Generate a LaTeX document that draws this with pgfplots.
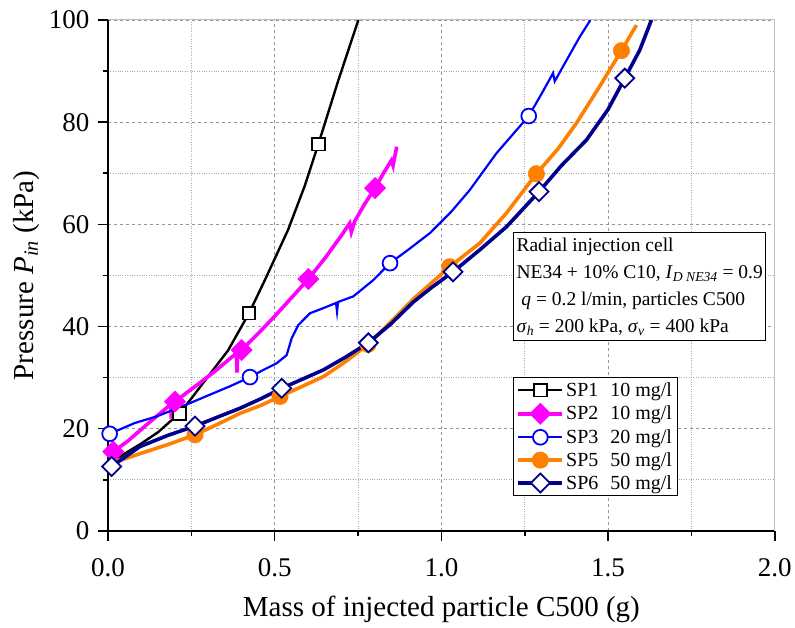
\documentclass[border=0pt]{standalone}
\usepackage{fontspec}
\setmainfont{Liberation Serif}
\usepackage{pgfplots}
\pgfplotsset{compat=1.18}
\definecolor{spmagenta}{RGB}{255,0,255}
\definecolor{sporange}{RGB}{255,128,0}
\definecolor{spnavy}{RGB}{0,0,140}
\definecolor{gridgray}{RGB}{150,150,150}
\begin{document}
\begin{tikzpicture}
\begin{axis}[
    name=ax,
    scale only axis, width=667pt, height=511pt,
    xmin=0, xmax=2, ymin=0, ymax=100,
    axis lines*=left,
    axis line style={line width=1.6pt},
    xtick={0,0.5,1,1.5,2}, ytick={0,20,40,60,80,100},
    minor x tick num=1, minor y tick num=1,
    tick align=outside,
    major tick length=10pt, minor tick length=5pt,
    tick style={black, line width=1.6pt},
    grid=both,
    major grid style={dashed, gridgray, line width=0.8pt},
    minor grid style={dotted, gridgray!80, line width=0.8pt},
    /pgf/number format/assume math mode=true,
    x tick label style={/pgf/number format/fixed, /pgf/number format/fixed zerofill,
        /pgf/number format/precision=1, yshift=-14pt},
    y tick label style={xshift=-5pt},
    tick label style={font=\fontsize{27}{30}\selectfont},
    label style={font=\fontsize{29}{34}\selectfont},
    xlabel={Mass of injected particle C500 (g)},
    xlabel style={at={(axis description cs:0.5,0)}, anchor=base, yshift=-86pt},
    ylabel={Pressure \textit{P}\textsubscript{\textit{in}} (kPa)},
    ylabel style={at={(axis description cs:-0.1124,0.5)}, anchor=base},
    legend style={at={(axis cs:1.215,30.1)}, anchor=north west, draw=black, line width=1pt,
        font=\fontsize{20}{24}\selectfont, inner sep=3pt, row sep=3.5pt, cells={anchor=west}},
    legend image code/.code={\draw[#1, mark indices={2}] plot coordinates {(0pt,0pt) (22pt,0pt) (44pt,0pt)};},
]

% SP1
\addplot[black, line width=2.4pt, mark=square*, mark size=6.3pt,
    mark options={fill=white, line width=1.8pt}, mark indices={5,9,13}]
    coordinates {
(0,13.0) (0.05,15.1) (0.10,17.1) (0.15,19.3) (0.214,23.0) (0.25,25.9) (0.30,30.2)
(0.36,35.3) (0.423,42.6) (0.47,49.0) (0.54,58.9) (0.59,67.5) (0.631,75.7) (0.69,88.0)
(0.751,100)
    };
\addlegendentry{SP1\hspace{0.6em}10 mg/l}

% SP2
\addplot[spmagenta, line width=3.6pt, mark=square*, mark size=7.3pt,
    mark options={rotate=45, fill=spmagenta, line width=1pt}, mark indices={2,9,16,20,27}]
    coordinates {
(0,15.0) (0.016,15.5) (0.06,17.6) (0.12,21.0) (0.18,24.3) (0.188,24.6) (0.19,22.0)
(0.192,24.8) (0.201,25.3) (0.26,28.2) (0.32,31.2) (0.38,34.5) (0.385,34.7) (0.387,31.0)
(0.389,34.9) (0.401,35.4) (0.45,38.6) (0.50,42.0) (0.55,45.6) (0.601,49.3) (0.65,53.3)
(0.70,57.8) (0.725,60.2) (0.73,58.5) (0.74,60.6) (0.77,64.0) (0.801,67.1) (0.83,70.4)
(0.85,72.5) (0.855,71.5) (0.866,75.2)
    };
\addlegendentry{SP2\hspace{0.6em}10 mg/l}

% SP3
\addplot[blue, line width=2.2pt, mark=*, mark size=7.4pt,
    mark options={fill=white, line width=1.8pt}, mark indices={1,7,20,26}]
    coordinates {
(0.005,19.0) (0.08,21.1) (0.146,22.4) (0.246,25.0) (0.30,26.5) (0.366,28.3) (0.426,30.1)
(0.466,31.5) (0.506,32.8) (0.536,34.4) (0.551,37.7) (0.571,40.3) (0.606,42.6) (0.646,43.6)
(0.684,44.6) (0.687,42.9) (0.69,44.8) (0.736,45.9) (0.796,49.1) (0.846,52.4) (0.90,55.0)
(0.966,58.3) (1.03,62.5) (1.085,66.7) (1.165,73.9) (1.262,81.2) (1.30,85.5) (1.335,89.6)
(1.34,88.0) (1.37,91.5) (1.415,96.7) (1.447,100)
    };
\addlegendentry{SP3\hspace{0.6em}20 mg/l}

% SP5
\addplot[sporange, line width=3.6pt, mark=*, mark size=8.2pt,
    mark options={fill=sporange, line width=0.5pt}, mark indices={5,9,13,17,20,24}]
    coordinates {
(0,13.5) (0.046,14.0) (0.10,15.2) (0.18,16.9) (0.261,18.8) (0.33,20.9) (0.396,23.0)
(0.46,24.6) (0.516,26.3) (0.58,28.2) (0.646,30.2) (0.71,33.0) (0.78,36.5) (0.85,41.0)
(0.916,45.4) (0.97,48.5) (1.025,51.7) (1.115,56.3) (1.195,62.2) (1.285,69.9) (1.35,74.8)
(1.405,79.8) (1.47,86.5) (1.54,94.0) (1.585,99.0)
    };
\addlegendentry{SP5\hspace{0.6em}50 mg/l}

% SP6
\addplot[spnavy, line width=3.6pt, mark=square*, mark size=6.7pt,
    mark options={rotate=45, fill=white, line width=1.8pt}, mark indices={1,4,8,12,16,19,23}]
    coordinates {
(0.011,12.6) (0.096,16.5) (0.18,18.7) (0.261,20.5) (0.33,22.3) (0.396,24.0) (0.46,25.9)
(0.521,27.9) (0.58,29.6) (0.646,31.5) (0.71,33.9) (0.781,36.8) (0.85,40.6) (0.916,44.8)
(0.97,47.6) (1.035,50.7) (1.115,55.0) (1.195,59.5) (1.293,66.4) (1.36,71.5) (1.435,76.5)
(1.50,82.5) (1.55,88.6) (1.595,94.1) (1.63,100)
    };
\addlegendentry{SP6\hspace{0.6em}50 mg/l}

\node[draw=black, line width=1pt, fill=white, anchor=north west, align=left,
    inner xsep=3pt, inner ysep=5pt,
    font=\fontsize{19.5}{27}\selectfont] at (axis cs:1.215,58.5)
    {Radial injection cell\\
     NE34 + 10\% C10, \textit{I}\textsubscript{\textit{D NE34}} = 0.9\\
     \ \textit{q} = 0.2 l/min, particles C500\\
     \textit{σ}\textsubscript{\textit{h}} = 200 kPa, \textit{σ}\textsubscript{\textit{v}} = 400 kPa};
\end{axis}
\draw[gray!50, line width=1pt] (ax.north west) -- (ax.north east) -- (ax.south east);
\path (ax.south west) ++(-108pt,-97pt);
\path (ax.north east) ++(20pt,20pt);
\end{tikzpicture}
\end{document}
